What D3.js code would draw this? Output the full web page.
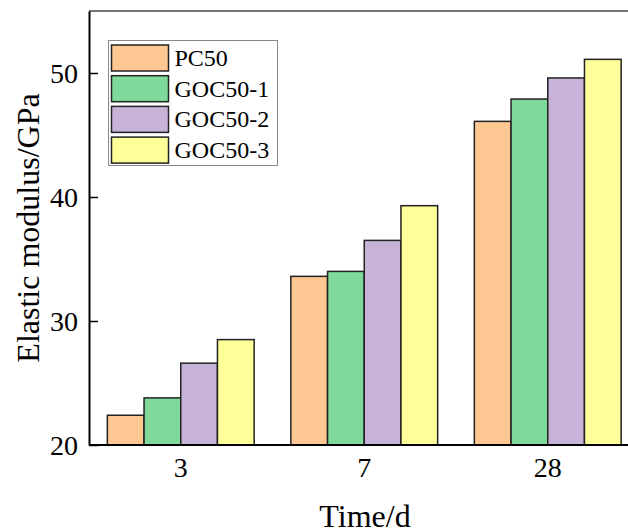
<!DOCTYPE html>
<meta charset="utf-8">
<style>
body { margin: 0; background: #fff; }
text { font-family: "Liberation Serif", "Times New Roman", serif; fill: #000; }
.bar { stroke: #222; stroke-width: 1.5; }
</style>
<svg width="628" height="531"></svg>
<script src="https://d3js.org/d3.v7.min.js"></script>
<script>
var ages = ["3", "7", "28"];
var series = ["PC50", "GOC50-1", "GOC50-2", "GOC50-3"];
var colors = ["#ffc893", "#7fd99b", "#c8b3d8", "#ffff99"];
var pc50   = [22.4, 33.6, 46.1];
var goc1   = [23.8, 34.0, 47.9];
var goc2   = [26.6, 36.5, 49.6];
var goc3   = [28.5, 39.3, 51.1];
var yTicks = [20, 30, 40, 50];

var values = [pc50, goc1, goc2, goc3];

var svg = d3.select("svg"),
    plotL = 89, plotT = 11, plotB = 445, plotR = 639.5;

var x = d3.scaleBand().domain(ages).range([plotL, plotR]).paddingInner(0.2).paddingOuter(0.1),
    xs = d3.scaleBand().domain(series).range([0, x.bandwidth()]),
    y = d3.scaleLinear().domain([20, 55]).range([plotB, plotT]);

// bars
series.forEach(function(s, i) {
  svg.append("g").selectAll("rect")
    .data(ages)
    .enter().append("rect")
      .attr("class", "bar")
      .attr("x", function(d) { return x(d) + xs(s); })
      .attr("y", function(d, j) { return y(values[i][j]); })
      .attr("width", xs.bandwidth())
      .attr("height", function(d, j) { return plotB - y(values[i][j]); })
      .attr("fill", colors[i]);
});

// top frame line
svg.append("line")
    .attr("x1", plotL).attr("x2", 628)
    .attr("y1", plotT).attr("y2", plotT)
    .attr("stroke", "#444").attr("stroke-width", 1.5);

// y axis
var gy = svg.append("g")
    .attr("transform", "translate(" + plotL + ",0)")
    .call(d3.axisLeft(y).tickValues(yTicks).tickSizeInner(-9).tickSizeOuter(0).tickPadding(11));
gy.select(".domain").attr("stroke", "#000").attr("stroke-width", 2);
gy.selectAll(".tick line").attr("stroke", "#000").attr("stroke-width", 1.5);
gy.selectAll("text").attr("font-size", 28).attr("font-family", "Liberation Serif").attr("dy", "0.34em");

// x axis
var gx = svg.append("g")
    .attr("transform", "translate(0," + plotB + ")")
    .call(d3.axisBottom(x).tickSize(0).tickPadding(32));
gx.select(".domain").attr("stroke", "#000").attr("stroke-width", 2)
    .attr("d", "M" + plotL + ",0H" + plotR);
gx.selectAll("text").attr("font-size", 28).attr("font-family", "Liberation Serif").attr("dy", 0);

// axis titles
svg.append("text")
    .attr("x", 365).attr("y", 527)
    .attr("text-anchor", "middle")
    .attr("font-size", 32)
    .text("Time/d");
svg.append("text")
    .attr("transform", "translate(39,228) rotate(-90)")
    .attr("text-anchor", "middle")
    .attr("font-size", 32)
    .text("Elastic modulus/GPa");

// legend
var lg = svg.append("g").attr("transform", "translate(108.5,40.5)");
lg.append("rect")
    .attr("width", 169).attr("height", 125)
    .attr("fill", "#fff").attr("stroke", "#888").attr("stroke-width", 1);
series.forEach(function(s, i) {
  lg.append("rect")
      .attr("class", "bar")
      .attr("x", 3).attr("y", 4.5 + i * 30.7)
      .attr("width", 57).attr("height", 26)
      .attr("fill", colors[i]);
  lg.append("text")
      .attr("x", 66).attr("y", 4.5 + i * 30.7 + 21)
      .attr("font-size", 24)
      .text(s);
});
</script>
